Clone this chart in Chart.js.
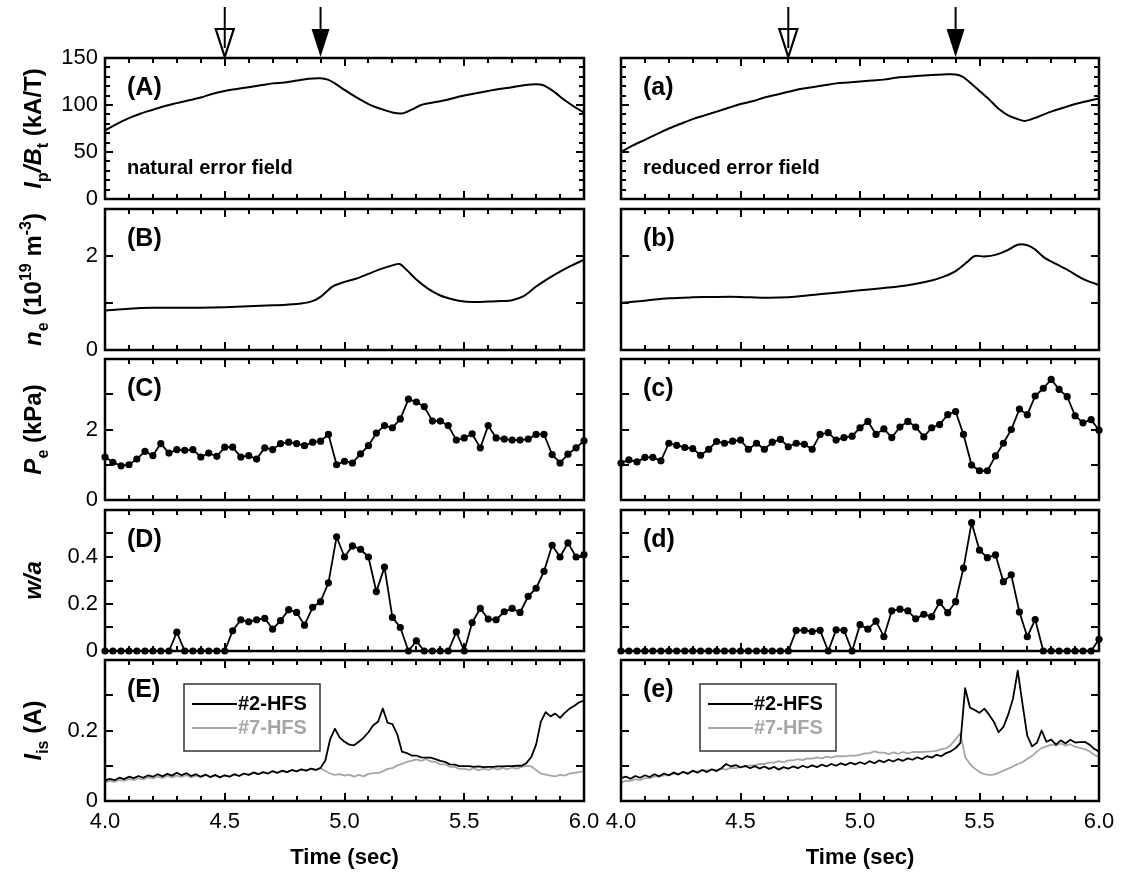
<!DOCTYPE html>
<html>
<head>
<meta charset="utf-8">
<title>Discharge traces</title>
<script src="https://cdn.jsdelivr.net/npm/chart.js@4.4.1/dist/chart.umd.min.js"></script>
<style>
  body { margin: 0; background: #fff; }
  #fig { position: relative; width: 1122px; height: 879px; overflow: hidden; background: #fff; }
  #fig canvas { position: absolute; }
</style>
</head>
<body>
<div id="fig"></div>
<script>
// ---- values ----
const xLabels = [4.0, 4.5, 5.0, 5.5, 6.0];
const xTickMarks = [4.1, 4.2, 4.3, 4.4, 4.5, 4.6, 4.7, 4.8, 4.9, 5.0, 5.1, 5.2, 5.3, 5.4, 5.5, 5.6, 5.7, 5.8, 5.9];

const arrowOpen = [4.5, 4.7];   // hollow arrows (left, right column)
const arrowFull = [4.9, 5.4];   // filled arrows

// Ip/Bt (kA/T)
const ipbtTimeL = [4.00,4.05,4.10,4.15,4.20,4.25,4.30,4.35,4.40,4.45,4.50,4.55,4.60,4.65,4.70,4.75,4.80,4.85,4.90,4.93,4.96,5.00,5.05,5.10,5.15,5.20,5.24,5.28,5.32,5.40,5.50,5.60,5.70,5.75,5.80,5.83,5.87,5.92,5.96,6.00];
const ipbtL = [73,80,86,91,95,99,102,105,108,112,115,117,119,121,123,124,126,128,128.5,127,123,116,108,101,96,92,91,95,100,104,110,115,119,121,122,121,115,105,98,92];
const ipbtTimeR = [4.00,4.05,4.10,4.15,4.20,4.25,4.30,4.35,4.40,4.45,4.50,4.55,4.60,4.65,4.70,4.75,4.80,4.85,4.90,4.95,5.00,5.05,5.10,5.15,5.20,5.25,5.30,5.35,5.40,5.43,5.46,5.50,5.54,5.58,5.62,5.66,5.69,5.74,5.80,5.85,5.90,5.95,6.00];
const ipbtR = [50,57,63,69,75,80,85,89,93,97,101,104,108,111,114,117,119,121,123,124,125,126,127,129,130,131,132,132.5,132.5,130,124,115,106,96,89,85,83,87,93,97,101,104,107];

// ne (1e19 m^-3)
const neTimeL = [4.00,4.10,4.20,4.30,4.40,4.50,4.60,4.70,4.80,4.86,4.90,4.95,5.00,5.05,5.10,5.15,5.20,5.23,5.26,5.30,5.35,5.40,5.45,5.50,5.55,5.60,5.65,5.70,5.75,5.80,5.85,5.90,5.95,6.00];
const neL = [0.84,0.88,0.90,0.90,0.90,0.91,0.93,0.95,0.98,1.03,1.13,1.35,1.45,1.52,1.62,1.72,1.80,1.83,1.70,1.50,1.30,1.16,1.08,1.03,1.02,1.03,1.04,1.06,1.15,1.35,1.52,1.67,1.80,1.92];
const neTimeR = [4.00,4.10,4.20,4.30,4.40,4.50,4.60,4.70,4.80,4.90,5.00,5.10,5.20,5.30,5.35,5.40,5.45,5.48,5.52,5.57,5.62,5.66,5.70,5.73,5.77,5.82,5.87,5.93,6.00];
const neR = [1.00,1.05,1.10,1.12,1.13,1.13,1.11,1.12,1.17,1.22,1.27,1.32,1.38,1.48,1.56,1.68,1.88,2.00,1.99,2.03,2.13,2.24,2.23,2.15,1.97,1.83,1.70,1.52,1.38];

// sampled profiles: Pe (kPa) and w/a
const peTime = [4.000,4.033,4.067,4.100,4.133,4.167,4.200,4.233,4.267,4.300,4.333,4.367,4.400,4.433,4.467,4.500,4.533,4.567,4.600,4.633,4.667,4.700,4.733,4.767,4.800,4.833,4.867,4.900,4.933,4.967,5.000,5.033,5.067,5.100,5.133,5.167,5.200,5.233,5.267,5.300,5.333,5.367,5.400,5.433,5.467,5.500,5.533,5.567,5.600,5.633,5.667,5.700,5.733,5.767,5.800,5.833,5.867,5.900,5.933,5.967,6.000];
const peL = [1.22,1.07,0.97,1.00,1.16,1.38,1.26,1.60,1.33,1.43,1.41,1.43,1.22,1.33,1.24,1.50,1.50,1.22,1.26,1.16,1.48,1.43,1.60,1.64,1.60,1.54,1.64,1.67,1.86,1.00,1.10,1.05,1.31,1.54,1.90,2.11,2.05,2.30,2.86,2.78,2.65,2.24,2.24,2.11,1.70,1.76,1.88,1.48,2.11,1.76,1.73,1.70,1.70,1.73,1.86,1.86,1.29,1.05,1.30,1.48,1.68];
const peR = [1.05,1.14,1.08,1.21,1.21,1.11,1.61,1.55,1.49,1.46,1.27,1.44,1.66,1.61,1.67,1.70,1.44,1.61,1.44,1.64,1.72,1.51,1.61,1.58,1.44,1.86,1.91,1.70,1.77,1.81,2.05,2.23,1.86,2.02,1.77,2.07,2.23,2.07,1.79,2.05,2.14,2.42,2.51,1.86,0.99,0.83,0.83,1.25,1.61,2.00,2.58,2.42,2.95,3.17,3.42,3.14,2.93,2.39,2.19,2.28,1.98];
const waL = [0,0,0,0,0,0,0,0,0,0.08,0,0,0,0,0,0,0.086,0.133,0.124,0.133,0.139,0.093,0.129,0.176,0.164,0.11,0.186,0.21,0.29,0.486,0.40,0.447,0.433,0.40,0.253,0.357,0.143,0.10,0,0.043,0,0,0,0,0.081,0,0.121,0.181,0.136,0.133,0.167,0.181,0.164,0.233,0.267,0.339,0.45,0.40,0.46,0.40,0.41];
const waR = [0,0,0,0,0,0,0,0,0,0,0,0,0,0,0,0,0,0,0,0,0,0,0.088,0.088,0.083,0.088,0,0.09,0.088,0,0.112,0.093,0.127,0.061,0.171,0.178,0.171,0.137,0.156,0.146,0.207,0.163,0.21,0.353,0.546,0.429,0.397,0.409,0.295,0.324,0.166,0.061,0.134,0,0,0,0,0,0,0,0.05];

// ion saturation current Iis (A), probes #2-HFS and #7-HFS
const isTime = [4.00,4.02,4.04,4.06,4.08,4.10,4.12,4.14,4.16,4.18,4.20,4.22,4.24,4.26,4.28,4.30,4.32,4.34,4.36,4.38,4.40,4.42,4.44,4.46,4.48,4.50,4.52,4.54,4.56,4.58,4.60,4.62,4.64,4.66,4.68,4.70,4.72,4.74,4.76,4.78,4.80,4.82,4.84,4.86,4.88,4.90,4.92,4.94,4.96,4.98,5.00,5.02,5.04,5.06,5.08,5.10,5.12,5.14,5.16,5.18,5.20,5.22,5.24,5.26,5.28,5.30,5.32,5.34,5.36,5.38,5.40,5.42,5.44,5.46,5.48,5.50,5.52,5.54,5.56,5.58,5.60,5.62,5.64,5.66,5.68,5.70,5.72,5.74,5.76,5.78,5.80,5.82,5.84,5.86,5.88,5.90,5.92,5.94,5.96,5.98,6.00];
const is2L = [0.058,0.063,0.059,0.066,0.062,0.069,0.065,0.071,0.066,0.073,0.069,0.076,0.070,0.077,0.072,0.080,0.073,0.079,0.071,0.076,0.069,0.075,0.068,0.074,0.067,0.073,0.069,0.076,0.071,0.078,0.074,0.081,0.076,0.082,0.078,0.085,0.080,0.086,0.082,0.088,0.084,0.090,0.086,0.092,0.088,0.094,0.115,0.175,0.205,0.180,0.168,0.160,0.158,0.168,0.180,0.195,0.215,0.225,0.262,0.222,0.218,0.190,0.140,0.136,0.129,0.129,0.124,0.123,0.123,0.119,0.114,0.111,0.104,0.103,0.099,0.099,0.099,0.097,0.098,0.096,0.097,0.097,0.098,0.098,0.099,0.099,0.100,0.100,0.108,0.125,0.160,0.225,0.252,0.240,0.248,0.236,0.250,0.262,0.270,0.280,0.285];
const is7L = [0.052,0.057,0.054,0.060,0.057,0.063,0.059,0.065,0.061,0.067,0.064,0.069,0.065,0.071,0.067,0.072,0.068,0.073,0.067,0.072,0.068,0.073,0.067,0.072,0.068,0.073,0.069,0.075,0.071,0.077,0.074,0.079,0.076,0.081,0.078,0.084,0.080,0.085,0.082,0.087,0.084,0.089,0.086,0.091,0.088,0.093,0.085,0.078,0.074,0.076,0.072,0.075,0.069,0.074,0.070,0.077,0.079,0.079,0.084,0.091,0.093,0.101,0.105,0.111,0.114,0.118,0.114,0.119,0.112,0.111,0.104,0.104,0.097,0.097,0.091,0.092,0.088,0.093,0.087,0.092,0.088,0.093,0.089,0.094,0.090,0.095,0.092,0.097,0.100,0.098,0.088,0.078,0.075,0.072,0.070,0.074,0.072,0.078,0.080,0.082,0.085];
const is2R = [0.065,0.069,0.063,0.071,0.066,0.073,0.068,0.076,0.070,0.078,0.073,0.081,0.075,0.083,0.077,0.086,0.080,0.088,0.082,0.090,0.085,0.093,0.105,0.098,0.102,0.095,0.100,0.093,0.099,0.092,0.098,0.091,0.097,0.089,0.096,0.092,0.098,0.093,0.100,0.095,0.101,0.096,0.103,0.098,0.105,0.100,0.107,0.102,0.109,0.104,0.110,0.105,0.113,0.107,0.115,0.110,0.117,0.112,0.119,0.114,0.121,0.117,0.124,0.119,0.127,0.123,0.131,0.127,0.136,0.141,0.150,0.165,0.320,0.265,0.258,0.250,0.262,0.245,0.225,0.195,0.210,0.245,0.290,0.370,0.275,0.185,0.155,0.165,0.200,0.168,0.174,0.160,0.172,0.163,0.174,0.166,0.167,0.168,0.160,0.148,0.140];
const is7R = [0.052,0.057,0.057,0.062,0.059,0.065,0.065,0.069,0.069,0.073,0.073,0.077,0.077,0.081,0.080,0.084,0.084,0.087,0.087,0.088,0.088,0.092,0.089,0.094,0.093,0.097,0.097,0.101,0.101,0.105,0.105,0.109,0.109,0.113,0.110,0.115,0.115,0.119,0.116,0.121,0.120,0.124,0.121,0.126,0.123,0.127,0.127,0.127,0.129,0.129,0.131,0.135,0.135,0.141,0.137,0.137,0.133,0.138,0.134,0.139,0.135,0.139,0.139,0.139,0.140,0.141,0.142,0.147,0.149,0.159,0.175,0.192,0.125,0.105,0.092,0.082,0.076,0.074,0.075,0.080,0.086,0.092,0.098,0.105,0.110,0.120,0.128,0.140,0.150,0.155,0.160,0.157,0.163,0.157,0.161,0.154,0.151,0.147,0.141,0.131,0.125];

// ---- drawing ----
const FONT = '"Liberation Sans", Arial, Helvetica, sans-serif';
Chart.defaults.font.family = FONT;
Chart.defaults.font.size = 22;
Chart.defaults.color = '#000';

const GRAY = '#a6a6a6';
const PLOT_H = 141;
const rowTop = [58, 209, 359, 510, 660];
const cols = [
  { left: 0, width: 600, axisW: 105, padR: 16 },
  { left: 600, width: 522, axisW: 21, padR: 23 }
];

function pts(xs, ys) { return xs.map((x, i) => ({ x: x, y: ys[i] })); }
function curve(xs, ys) {
  return { data: pts(xs, ys), borderColor: '#000', borderWidth: 2, pointRadius: 0, tension: 0.3 };
}
function dots(xs, ys) {
  return { data: pts(xs, ys), borderColor: '#000', borderWidth: 1.8, pointRadius: 3.6,
           pointBackgroundColor: '#000', pointBorderWidth: 0, tension: 0, clip: false };
}
function trace(xs, ys, color, label) {
  return { label: label, data: pts(xs, ys), borderColor: color, borderWidth: 1.8, pointRadius: 0,
           tension: 0, borderJoinStyle: 'round' };
}

const rows = [
  { yMax: 150, yLabels: [0, 50, 100, 150], yMajor: [50, 100],
    yMinor: [10, 20, 30, 40, 60, 70, 80, 90, 110, 120, 130, 140],
    tags: ['(A)', '(a)'], notes: ['natural error field', 'reduced error field'],
    title: [['I', 'it'], ['p', 'sub'], ['/', 'it'], ['B', 'it'], ['t', 'sub'], [' (kA/T)', 'n']],
    sets: c => [c === 0 ? curve(ipbtTimeL, ipbtL) : curve(ipbtTimeR, ipbtR)] },
  { yMax: 3, yLabels: [0, 2], yMajor: [1, 2], yMinor: [],
    tags: ['(B)', '(b)'],
    title: [['n', 'it'], ['e', 'sub'], [' (10', 'n'], ['19', 'sup'], [' m', 'n'], ['-3', 'sup'], [')', 'n']],
    sets: c => [c === 0 ? curve(neTimeL, neL) : curve(neTimeR, neR)] },
  { yMax: 4, yLabels: [0, 2], yMajor: [1, 2, 3], yMinor: [],
    tags: ['(C)', '(c)'],
    title: [['P', 'it'], ['e', 'sub'], [' (kPa)', 'n']],
    sets: c => [dots(peTime, c === 0 ? peL : peR)] },
  { yMax: 0.6, yLabels: [0, 0.2, 0.4], yMajor: [0.1, 0.2, 0.3, 0.4, 0.5], yMinor: [],
    tags: ['(D)', '(d)'],
    title: [['w/a', 'it']],
    sets: c => [dots(peTime, c === 0 ? waL : waR)] },
  { yMax: 0.4, yLabels: [0, 0.2], yMajor: [0.1, 0.2, 0.3], yMinor: [],
    tags: ['(E)', '(e)'], legend: true,
    title: [['I', 'it'], ['is', 'sub'], [' (A)', 'n']],
    sets: c => [trace(isTime, c === 0 ? is2L : is2R, '#000', '#2-HFS'),
                trace(isTime, c === 0 ? is7L : is7R, GRAY, '#7-HFS')] }
];

// frame with inward ticks on all four sides
const framePlugin = {
  id: 'frame',
  afterDatasetsDraw(chart, args, o) {
    const { ctx, chartArea: a } = chart;
    const xs = chart.scales.x, ys = chart.scales.y;
    ctx.save();
    ctx.strokeStyle = '#000';
    ctx.lineWidth = 2;
    ctx.beginPath();
    xTickMarks.forEach(v => {
      const len = Math.round(v * 10) % 5 === 0 ? 8 : 5;
      const px = Math.round(xs.getPixelForValue(v));
      ctx.moveTo(px, a.bottom); ctx.lineTo(px, a.bottom - len);
      ctx.moveTo(px, a.top); ctx.lineTo(px, a.top + len);
    });
    const yt = (v, len) => {
      const py = Math.round(ys.getPixelForValue(v));
      ctx.moveTo(a.left, py); ctx.lineTo(a.left + len, py);
      ctx.moveTo(a.right, py); ctx.lineTo(a.right - len, py);
    };
    o.yMajor.forEach(v => yt(v, 8));
    o.yMinor.forEach(v => yt(v, 5));
    ctx.stroke();
    ctx.lineWidth = 2.5;
    ctx.strokeRect(a.left, a.top, a.right - a.left, a.bottom - a.top);
    ctx.restore();
  }
};

function drawTitle(ctx, segs, x, yc) {
  const fonts = { it: 'italic bold 24px ', n: 'bold 24px ', sub: 'bold 16px ', sup: 'bold 16px ' };
  const shift = { it: 0, n: 0, sub: 7, sup: -10 };
  let w = 0;
  segs.forEach(([t, k]) => { ctx.font = fonts[k] + FONT; w += ctx.measureText(t).width; });
  ctx.save();
  ctx.translate(x, yc);
  ctx.rotate(-Math.PI / 2);
  ctx.textBaseline = 'alphabetic';
  let cx = -w / 2;
  segs.forEach(([t, k]) => {
    ctx.font = fonts[k] + FONT;
    ctx.fillText(t, cx, shift[k]);
    cx += ctx.measureText(t).width;
  });
  ctx.restore();
}

const notesPlugin = {
  id: 'notes',
  afterDraw(chart, args, o) {
    const { ctx, chartArea: a } = chart;
    const xs = chart.scales.x;
    ctx.save();
    ctx.fillStyle = '#000';
    ctx.textBaseline = 'middle';
    ctx.font = 'bold 25px ' + FONT;
    ctx.fillText(o.tag, a.left + 22, a.top + 30);
    if (o.note) {
      ctx.font = 'bold 20px ' + FONT;
      ctx.fillText(o.note, a.left + 22, a.top + 110);
    }
    if (o.title) drawTitle(ctx, o.title, 41, (a.top + a.bottom) / 2);

    if (o.arrows) {
      ctx.strokeStyle = '#000';
      ctx.lineWidth = 2;
      // hollow arrow
      let px = xs.getPixelForValue(o.arrows.open);
      ctx.beginPath();
      ctx.moveTo(px - 9, a.top - 29); ctx.lineTo(px + 9, a.top - 29); ctx.lineTo(px, a.top - 1); ctx.closePath();
      ctx.fillStyle = '#fff'; ctx.fill(); ctx.lineWidth = 2.2; ctx.stroke();
      ctx.beginPath(); ctx.moveTo(px, a.top - 51); ctx.lineTo(px, a.top - 10); ctx.lineWidth = 2; ctx.stroke();
      // filled arrow
      px = xs.getPixelForValue(o.arrows.full);
      ctx.beginPath(); ctx.moveTo(px, a.top - 51); ctx.lineTo(px, a.top - 28); ctx.stroke();
      ctx.beginPath();
      ctx.moveTo(px - 9, a.top - 29); ctx.lineTo(px + 9, a.top - 29); ctx.lineTo(px, a.top - 1); ctx.closePath();
      ctx.fillStyle = '#000'; ctx.fill();
    }

    if (o.legend) {
      const bx = a.left + 79, by = a.top + 24;
      ctx.strokeStyle = '#333';
      ctx.lineWidth = 1.5;
      ctx.strokeRect(bx, by, 136, 67);
      ctx.font = 'bold 20px ' + FONT;
      chart.data.datasets.forEach((ds, i) => {
        const yy = by + 20 + i * 24;
        ctx.strokeStyle = ds.borderColor;
        ctx.lineWidth = 2;
        ctx.beginPath(); ctx.moveTo(bx + 8, yy); ctx.lineTo(bx + 53, yy); ctx.stroke();
        ctx.fillStyle = ds.borderColor;
        ctx.fillText(ds.label, bx + 54, yy);
      });
    }
    ctx.restore();
  }
};

const fig = document.getElementById('fig');

rows.forEach((row, r) => {
  cols.forEach((g, c) => {
    const last = r === rows.length - 1;
    const top = r === 0 ? 0 : rowTop[r] - 8;
    const padTop = rowTop[r] - top;
    const axisH = last ? 78 : 0;
    const height = padTop + PLOT_H + (last ? axisH : 8);
    const cv = document.createElement('canvas');
    cv.width = g.width;
    cv.height = height;
    cv.style.left = g.left + 'px';
    cv.style.top = top + 'px';
    fig.appendChild(cv);

    new Chart(cv, {
      type: 'line',
      data: { datasets: row.sets(c) },
      options: {
        responsive: false,
        animation: false,
        devicePixelRatio: 1,
        layout: { padding: { left: 0, right: g.padR, top: padTop, bottom: last ? 0 : 8 } },
        plugins: {
          legend: { display: false },
          tooltip: { enabled: false },
          frame: { yMajor: row.yMajor, yMinor: row.yMinor },
          notes: {
            tag: row.tags[c],
            note: row.notes ? row.notes[c] : null,
            title: c === 0 ? row.title : null,
            arrows: r === 0 ? { open: arrowOpen[c], full: arrowFull[c] } : null,
            legend: !!row.legend
          }
        },
        scales: {
          x: {
            type: 'linear', min: 4, max: 6,
            grid: { display: false, drawTicks: false }, border: { display: false },
            ticks: { display: last, padding: 8, autoSkip: false, maxRotation: 0,
                     callback: v => Number(v).toFixed(1) },
            afterBuildTicks: s => { s.ticks = xLabels.map(v => ({ value: v })); },
            title: { display: last, text: 'Time (sec)', font: { weight: 'bold', size: 22 },
                     padding: { top: 0, bottom: 8 } },
            afterFit: s => { s.height = axisH; s.paddingLeft = 0; s.paddingRight = 0; }
          },
          y: {
            min: 0, max: row.yMax,
            grid: { display: false, drawTicks: false }, border: { display: false },
            ticks: { display: c === 0, padding: 7, callback: v => String(v) },
            afterBuildTicks: s => { s.ticks = row.yLabels.map(v => ({ value: v })); },
            afterFit: s => { s.width = g.axisW; s.paddingTop = 0; s.paddingBottom = 0; }
          }
        }
      },
      plugins: [framePlugin, notesPlugin]
    });
  });
});
</script>
</body>
</html>
